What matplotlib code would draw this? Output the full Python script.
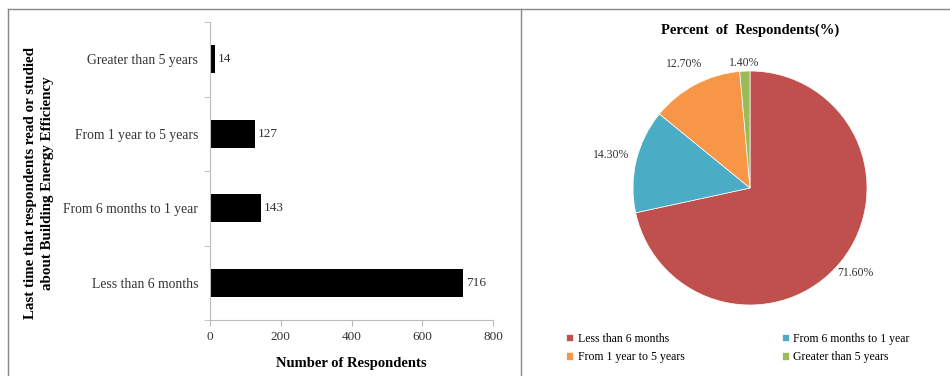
import numpy as np
import matplotlib.pyplot as plt
from matplotlib.lines import Line2D

plt.rcParams['font.family'] = ['Liberation Serif', 'DejaVu Serif']

# data
categories = ["Less than 6 months", "From 6 months to 1 year",
              "From 1 year to 5 years", "Greater than 5 years"]
respondents = [716, 143, 127, 14]
percents = [71.6, 14.3, 12.7, 1.4]
pie_colors = ["#C0504D", "#4BACC6", "#F79646", "#9BBB59"]
x_ticks = [0, 200, 400, 600, 800]

fig = plt.figure(figsize=(9.5, 3.76), dpi=100)

# panel frames
W, H = 950.0, 376.0
for (x0, y0, x1, y1) in [(8, 9, 950, 9), (8, 9, 8, 376), (521, 9, 521, 376)]:
    fig.add_artist(Line2D([x0 / W, x1 / W], [1 - y0 / H, 1 - y1 / H],
                          transform=fig.transFigure, color="#888888", lw=1.0))

# ---- bar chart ----
ax = fig.add_axes([210 / W, 1 - 320 / H, 283 / W, 298 / H])
ypos = np.arange(len(categories))
ax.barh(ypos, respondents, height=0.38, color="black")
for y, v in zip(ypos, respondents):
    ax.text(v + 8, y, str(v), va="center", ha="left", fontsize=9.5, color="#333333")
ax.set_xlim(0, 800)
ax.set_ylim(-0.5, 3.5)
ax.set_xticks(x_ticks)
ax.set_xticklabels([str(t) for t in x_ticks], fontsize=9.5, color="#333333")
ax.set_yticks(ypos)
ax.set_yticklabels(categories, fontsize=9.8, color="#333333")
ax.set_yticks(np.arange(-0.5, 4, 1), minor=True)
ax.tick_params(axis="y", which="major", length=0, pad=8.5)
ax.tick_params(axis="y", which="minor", length=4, color="#bbbbbb")
ax.tick_params(axis="x", length=4, color="#bbbbbb", pad=4)
for s in ["top", "right"]:
    ax.spines[s].set_visible(False)
for s in ["left", "bottom"]:
    ax.spines[s].set_color("#bbbbbb")
ax.set_xlabel("Number of Respondents", fontsize=10.5, fontweight="bold", va="center")
ax.xaxis.set_label_coords(0.5, (320 - 364) / 298)
ax.set_ylabel("Last time that respondents read or studied\nabout Building Energy Efficiency",
              fontsize=10.8, fontweight="bold", linespacing=1.4, va="center")
ax.yaxis.set_label_coords((39 - 210) / 283, (320 - 183) / 298)

# ---- pie chart ----
pax = fig.add_axes([633 / W, 1 - 305 / H, 234 / W, 234 / H])
wedges, texts, autotexts = pax.pie(percents, colors=pie_colors, startangle=90,
                                    counterclock=False, autopct="%.2f%%",
                                    pctdistance=1.16, radius=1,
                                    wedgeprops=dict(edgecolor="white", linewidth=0.5),
                                    textprops=dict(fontsize=8.5, color="#333333"))
# per-label distance from centre, like the original placement
label_dist = [1.16, 1.22, 1.2, 1.07]
for w, t, d in zip(wedges, autotexts, label_dist):
    ang = np.deg2rad((w.theta1 + w.theta2) / 2)
    t.set_position((d * np.cos(ang), d * np.sin(ang)))
pax.set_xlim(-1, 1)
pax.set_ylim(-1, 1)
pax.set_aspect("equal")
fig.text(750 / W, 1 - 30 / H, "Percent  of  Respondents(%)", ha="center", va="center",
         fontsize=10.5, fontweight="bold")
order = [0, 2, 1, 3]
fig.legend([wedges[i] for i in order], [categories[i] for i in order], loc="center",
           bbox_to_anchor=(738 / W, 1 - 348 / H),
           ncol=2, frameon=False, fontsize=8.5, handlelength=0.6, handleheight=0.6,
           handletextpad=0.4, columnspacing=8.2, labelspacing=0.55)

fig.savefig("out.png", dpi=100)
